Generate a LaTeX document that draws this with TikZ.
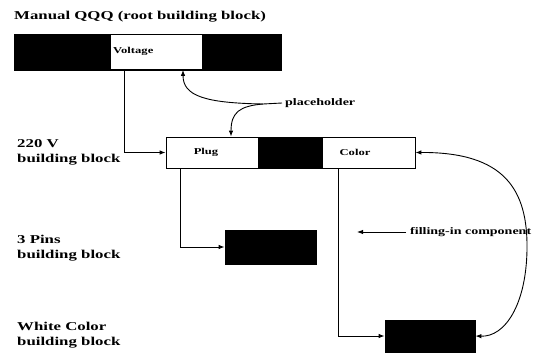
\documentclass[tikz,border=0pt]{standalone}
\usepackage{fontspec}
\setmainfont{Liberation Serif}[FakeStretch=1.4]
\usetikzlibrary{arrows.meta}
\begin{document}
\begin{tikzpicture}[x=1pt,y=-1pt,
  font=\bfseries,
  lbl/.style={anchor=west,inner sep=0pt,align=left,font=\bfseries\fontsize{12}{15}\selectfont},
  small/.style={inner sep=0pt,font=\bfseries\fontsize{9}{11}\selectfont},
  blk/.style={draw=black,fill=black,line width=0.8pt},
  wht/.style={draw=black,fill=white,line width=0.8pt},
  con/.style={line width=0.9pt},
  arr/.style={con,-{Latex[length=6pt,width=4.5pt]}},
  darr/.style={con,{Latex[length=6pt,width=4.5pt]}-{Latex[length=6pt,width=4.5pt]}}]
\useasboundingbox (0,0) rectangle (534,354);
% labels
\node[lbl] (ttl) at (14,17) {Manual QQQ (root building block)};
\node[lbl] (l220) at (17,152) {220 V\\building block};
\node[lbl] (l3p) at (17,248) {3 Pins\\building block};
\node[lbl] (lwc) at (17,335) {White Color\\building block};
% top bar
\node[blk,minimum width=267pt,minimum height=36pt,inner sep=0pt] (root) at (147.5,52) {};
\node[wht,minimum width=92pt,minimum height=35pt,inner sep=0pt] (volt) at (156,52) {};
\node[small,anchor=west] (voltt) at (113,51) {Voltage};
% second bar
\node[wht,minimum width=249pt,minimum height=31pt,inner sep=0pt] (bar) at (290.5,152.5) {};
\node[wht,minimum width=92pt,minimum height=31pt,inner sep=0pt] (plug) at (212,152.5) {};
\node[blk,minimum width=64pt,minimum height=31pt,inner sep=0pt] (mid) at (290,152.5) {};
\node[wht,minimum width=93pt,minimum height=31pt,inner sep=0pt] (color) at (368.5,152.5) {};
\node[small] (plugt) at (206,152) {Plug};
\node[small] (colort) at (355,152) {Color};
% lower boxes
\node[blk,minimum width=91pt,minimum height=34pt,inner sep=0pt] (pins) at (270.5,247) {};
\node[blk,minimum width=90pt,minimum height=32pt,inner sep=0pt] (wcol) at (430,336) {};
% placeholder
\node[anchor=west,inner sep=0pt,font=\bfseries\fontsize{10}{12}\selectfont] (ph) at (285,103) {placeholder};
\coordinate (phj) at (263,104);
\draw[con] (ph.west) ++(-3,0) -- (phj);
\draw[arr] (phj) .. controls (205,103) and (183,96) .. (volt.south -| 183,0);
\draw[arr] (phj) .. controls (240,106) and (231,112) .. (plug.north -| 231,0);
% filling in
\node[anchor=west,inner sep=0pt,font=\bfseries\fontsize{10}{12}\selectfont] (fill) at (410,232) {filling-in component};
\draw[arr] (fill.west) ++(-4,0) -- (357,232);
% connectors
\draw[arr] (volt.south west) ++(15,0) |- (plug.west);
\draw[arr] (plug.south west) ++(15,0) |- (pins.west);
\draw[arr] (color.south west) ++(17,0) |- (wcol.west);
\draw[darr] (color.east) .. controls (505,152) and (528,190) .. (527,250)
  .. controls (526,305) and (505,337) .. (wcol.east);
\end{tikzpicture}
\end{document}
